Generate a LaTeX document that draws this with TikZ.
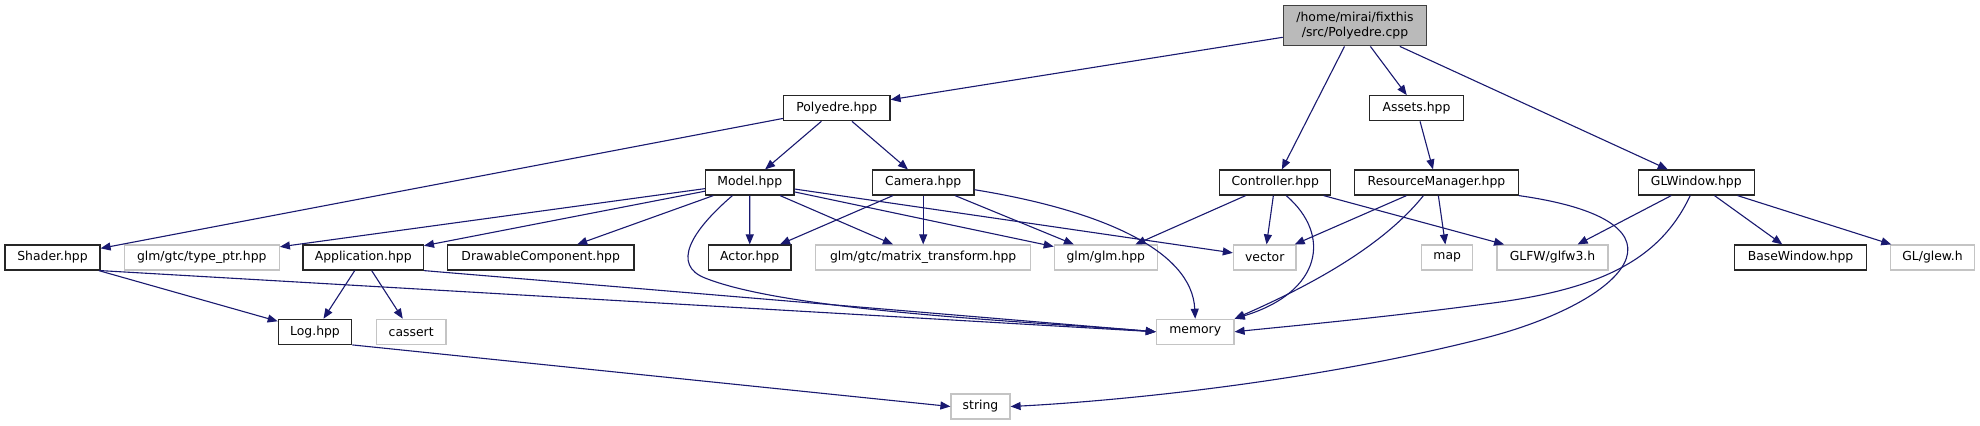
\documentclass[tikz,border=0pt]{standalone}
\usepackage{fontspec}
\setmainfont{DejaVu Sans}
\usepackage{xcolor}
\usetikzlibrary{arrows.meta}
\definecolor{edgeblue}{RGB}{25,25,112}
\definecolor{extgray}{RGB}{196,196,196}
\tikzset{
  filebox/.style={
    draw=black!85, line width=0.6pt, fill=white, inner sep=0pt,
    minimum height=12.5pt, font=\fontsize{6.2}{7.5}\selectfont
  },
  extbox/.style={
    filebox, draw=extgray
  },
  rootbox/.style={
    filebox, fill=extgray!95!black, draw=black!75, align=center,
    minimum height=20pt
  },
  incarrow/.style={
    -{Triangle[length=5pt, width=4pt]}, line width=0.55pt, color=edgeblue
  },
}
\begin{document}
\begin{tikzpicture}[x=0.5pt, y=-0.5pt]
  \useasboundingbox[fill=white] (0,0) rectangle (1980,425);

  % Top level
  \node[rootbox, minimum width=71.7pt] (root) at (1355,25.8)
    {/home/mirai/fixthis\\/src/Polyedre.cpp};
  \node[filebox, minimum width=53.3pt] (poly) at (836.7,108.2) {Polyedre.hpp};
  \node[filebox, minimum width=46.8pt] (assets) at (1416.5,108.2) {Assets.hpp};

  % Second row
  \node[filebox, minimum width=44.2pt] (model) at (749.8,182.5) {Model.hpp};
  \node[filebox, minimum width=50.8pt] (camera) at (923.2,182.5) {Camera.hpp};
  \node[filebox, minimum width=55.5pt] (controller) at (1275.2,182.5) {Controller.hpp};
  \node[filebox, minimum width=81.8pt] (resmgr) at (1436.5,182.5) {ResourceManager.hpp};
  \node[filebox, minimum width=58pt] (glwin) at (1696.3,182.5) {GLWindow.hpp};

  % Third row
  \node[filebox, minimum width=47.5pt] (shader) at (52.5,257.5) {Shader.hpp};
  \node[extbox, minimum width=77.5pt] (typeptr) at (201.8,257.5) {glm/gtc/type\_ptr.hpp};
  \node[filebox, minimum width=60.2pt] (app) at (363.2,257.5) {Application.hpp};
  \node[filebox, minimum width=93.3pt] (drawable) at (540.7,257.5) {DrawableComponent.hpp};
  \node[filebox, minimum width=41.3pt] (actor) at (749.7,257.5) {Actor.hpp};
  \node[extbox, minimum width=107.5pt] (mattrans) at (923.2,257.5) {glm/gtc/matrix\_transform.hpp};
  \node[extbox, minimum width=51.5pt] (glm) at (1105.8,257.5) {glm/glm.hpp};
  \node[extbox, minimum width=31.3pt] (vector) at (1264.7,257.5) {vector};
  \node[extbox, minimum width=25.5pt] (map) at (1447.2,257.5) {map};
  \node[extbox, minimum width=55.5pt] (glfw) at (1552.5,257.5) {GLFW/glfw3.h};
  \node[filebox, minimum width=66.2pt] (basewin) at (1800.5,257.5) {BaseWindow.hpp};
  \node[extbox, minimum width=42.2pt] (glew) at (1932.5,257.5) {GL/glew.h};

  % Bottom rows
  \node[filebox, minimum width=36.7pt] (log) at (315,331.8) {Log.hpp};
  \node[extbox, minimum width=34.8pt] (cassert) at (411.2,331.8) {cassert};
  \node[extbox, minimum width=38.8pt] (memory) at (1195.2,331.8) {memory};
  \node[extbox, minimum width=29.5pt] (string) at (980.5,406.5) {string};

  % Edges from the source file
  \draw[incarrow] (root) -- (poly);
  \draw[incarrow] (root) -- (controller);
  \draw[incarrow] (root) -- (assets);
  \draw[incarrow] (root) -- (glwin);

  % Polyedre.hpp
  \draw[incarrow] (poly) -- (shader);
  \draw[incarrow] (poly) -- (model);
  \draw[incarrow] (poly) -- (camera);

  % Model.hpp
  \draw[incarrow] (model) -- (typeptr);
  \draw[incarrow] (model) -- (app);
  \draw[incarrow] (model) -- (drawable);
  \draw[incarrow] (model) -- (actor);
  \draw[incarrow] (model) -- (mattrans);
  \draw[incarrow] (model) -- (glm);
  \draw[incarrow] (model) -- (vector);
  \draw[incarrow] (model.-143) .. controls (690,232) and (672,265) .. (705,278)
    .. controls (790,312) and (1040,322) .. (memory.west);

  % Camera.hpp
  \draw[incarrow] (camera) -- (actor);
  \draw[incarrow] (camera) -- (mattrans);
  \draw[incarrow] (camera) -- (glm);
  \draw[incarrow] (camera.-8) .. controls (1100,210) and (1192,250) .. (memory.north);

  % Shader.hpp, Application.hpp, Log.hpp
  \draw[incarrow] (shader) -- (log);
  \draw[incarrow] (shader.south east) -- (memory.west);
  \draw[incarrow] (app) -- (log);
  \draw[incarrow] (app) -- (cassert);
  \draw[incarrow] (app.south east) -- (memory.west);
  \draw[incarrow] (log.south east) -- (string.west);

  % Controller.hpp
  \draw[incarrow] (controller) -- (glm);
  \draw[incarrow] (controller) -- (vector);
  \draw[incarrow] (controller.-50) .. controls (1332,235) and (1322,292) .. (memory.north east);
  \draw[incarrow] (controller) -- (glfw);

  % Assets.hpp and ResourceManager.hpp
  \draw[incarrow] (assets) -- (resmgr);
  \draw[incarrow] (resmgr) -- (vector);
  \draw[incarrow] (resmgr.-135) .. controls (1380,250) and (1300,290) .. (memory.north east);
  \draw[incarrow] (resmgr) -- (map);
  \draw[incarrow] (resmgr.south east) .. controls (1705,222) and (1625,302) .. (1485,338)
    .. controls (1300,385) and (1100,402) .. (string.east);

  % GLWindow.hpp
  \draw[incarrow] (glwin) -- (glfw);
  \draw[incarrow] (glwin.-115) .. controls (1660,260) and (1600,290) .. (1485,304)
    .. controls (1380,318) and (1280,327) .. (memory.east);
  \draw[incarrow] (glwin) -- (basewin);
  \draw[incarrow] (glwin) -- (glew);
\end{tikzpicture}
\end{document}
